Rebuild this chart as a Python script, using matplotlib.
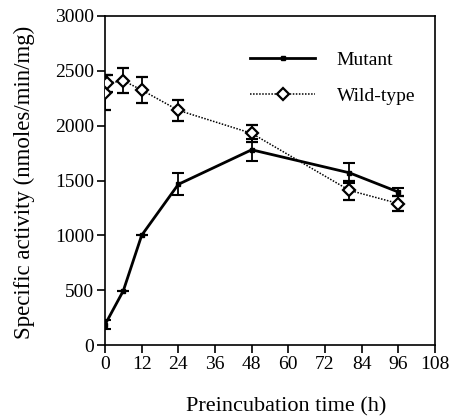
import matplotlib
matplotlib.use("Agg")
import matplotlib.pyplot as plt
from matplotlib.lines import Line2D

plt.rcParams['font.family'] = ['Liberation Serif', 'DejaVu Serif']

mut_x = [0, 6, 12, 24, 48, 80, 96]
mut_y = [185, 495, 1000, 1465, 1780, 1570, 1395]
mut_err = [40, 0, 0, 100, 100, 90, 40]

wt_x = [0, 0.5, 6, 12, 24, 48, 80, 96]
wt_y = [2300, 2385, 2410, 2325, 2140, 1930, 1410, 1290]
wt_err = [160, 80, 115, 120, 95, 75, 90, 70]

x_ticks = [0, 12, 24, 36, 48, 60, 72, 84, 96, 108]
y_ticks = [0, 500, 1000, 1500, 2000, 2500, 3000]

fig = plt.figure(figsize=(4.5, 4.17), dpi=100)
ax = fig.add_axes([105/450, 1-345/417, 330/450, 329/417])

ax.errorbar(wt_x, wt_y, yerr=wt_err, color='black', linestyle=(0, (1, 1)), linewidth=1.1,
            marker='D', markersize=6, markerfacecolor='white', markeredgecolor='black',
            markeredgewidth=1.6, ecolor='black', elinewidth=1.3, capsize=4, capthick=1.3, zorder=3)
ax.errorbar(mut_x, mut_y, yerr=mut_err, color='black', linestyle='-', linewidth=2,
            marker='s', markersize=3, ecolor='black', elinewidth=1.3, capsize=4, capthick=1.5, zorder=4)

ax.set_xlim(0, 108)
ax.set_ylim(0, 3000)
ax.set_xticks(x_ticks)
ax.set_yticks(y_ticks)
ax.tick_params(direction='out', length=6, width=1.2, labelsize=14, pad=2)
for s in ax.spines.values():
    s.set_linewidth(1.2)

ax.set_xlabel('Preincubation time (h)', fontsize=16)
ax.xaxis.set_label_coords(0.55, -0.158)
ax.set_ylabel('Specific activity (nmoles/min/mg)', fontsize=16.5)
ax.yaxis.set_label_coords(-0.212, 0.495)

handles = [Line2D([], [], color='black', linestyle='-', linewidth=2, marker='s', markersize=3),
           Line2D([], [], color='black', linestyle=(0, (1, 1)), linewidth=1.1, marker='D',
                  markersize=6, markerfacecolor='white', markeredgewidth=1.6)]
ax.legend(handles, ['Mutant', 'Wild-type'], loc='upper left', bbox_to_anchor=(0.387, 0.945),
          frameon=False, fontsize=14, handlelength=3.35, handletextpad=1.1, labelspacing=0.95)

fig.savefig('out.png', dpi=100)
